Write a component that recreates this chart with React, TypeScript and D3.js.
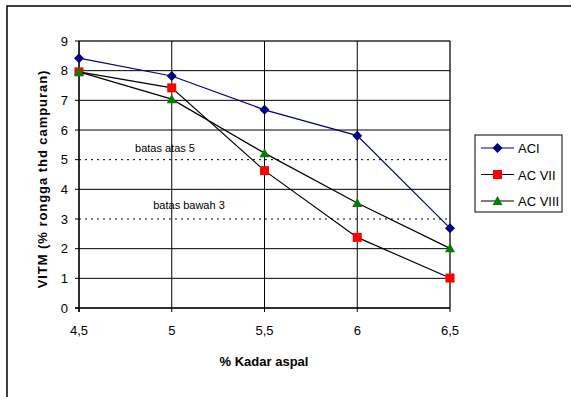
import React from "react";
import * as d3 from "d3";

const categories = [4.5, 5, 5.5, 6, 6.5];
const categoryLabels = ["4,5", "5", "5,5", "6", "6,5"];
const aciValues = [8.42, 7.82, 6.68, 5.81, 2.69];
const ac7Values = [7.96, 7.42, 4.63, 2.38, 1.01];
const ac8Values = [7.96, 7.04, 5.22, 3.54, 2.01];
const yTicks = [0, 1, 2, 3, 4, 5, 6, 7, 8, 9];
const limitLines = [
  { value: 5, label: "batas atas 5" },
  { value: 3, label: "batas bawah 3" },
];
const seriesNames = ["ACI", "AC VII", "AC VIII"];

const FONT = "'Liberation Sans', Arial, sans-serif";

export default function App() {
  const x = d3.scaleLinear().domain([4.5, 6.5]).range([79, 450]);
  const y = d3.scaleLinear().domain([0, 9]).range([308, 41]);
  const line = d3
    .line<number>()
    .x((_, i) => x(categories[i]))
    .y((d) => y(d));

  const series = [
    { name: seriesNames[0], values: aciValues, stroke: "#000080", fill: "#000080", shape: "diamond" },
    { name: seriesNames[1], values: ac7Values, stroke: "#000000", fill: "#FF0000", shape: "square" },
    { name: seriesNames[2], values: ac8Values, stroke: "#000000", fill: "#008000", shape: "triangle" },
  ];

  const marker = (shape: string, cx: number, cy: number, fill: string, key: string) => {
    if (shape === "diamond") {
      const r = 5;
      return <path key={key} d={`M${cx},${cy - r}L${cx + r},${cy}L${cx},${cy + r}L${cx - r},${cy}Z`} fill={fill} />;
    }
    if (shape === "square") {
      const r = 4.5;
      return <rect key={key} x={cx - r} y={cy - r} width={2 * r} height={2 * r} fill={fill} />;
    }
    const r = 5;
    return <path key={key} d={`M${cx},${cy - r}L${cx + r},${cy + r * 0.8}L${cx - r},${cy + r * 0.8}Z`} fill={fill} />;
  };

  const x0 = x(4.5), x1 = x(6.5), y0 = y(0), y1 = y(9);

  return (
    <svg width={571} height={397} style={{ position: "absolute", left: 0, top: 0, background: "#fff" }} fontFamily={FONT}>
      <rect x={0} y={0} width={571} height={397} fill="#fff" />
      <rect x={7} y={6} width={620} height={430} fill="none" stroke="#000" strokeWidth={1.5} />
      {/* plot border */}
      <rect x={x0} y={y1} width={x1 - x0} height={y0 - y1} fill="none" stroke="#808080" strokeWidth={1} />
      {/* horizontal gridlines */}
      {yTicks.filter((t) => t !== 0 && !limitLines.some((l) => l.value === t)).map((t) => (
        <line key={"h" + t} x1={x0} x2={x1} y1={y(t)} y2={y(t)} stroke="#000" strokeWidth={1} />
      ))}
      {/* vertical gridlines */}
      {categories.slice(1).map((c) => (
        <line key={"v" + c} x1={x(c)} x2={x(c)} y1={y1} y2={y0} stroke="#000" strokeWidth={1} />
      ))}
      {/* limit lines */}
      {limitLines.map((l) => (
        <g key={"l" + l.value}>
          <line x1={x0} x2={x1} y1={y(l.value)} y2={y(l.value)} stroke="#000" strokeWidth={1} strokeDasharray="2 4" />
        </g>
      ))}
      <text x={165} y={152} fontSize={11} textAnchor="middle" fill="#000">{limitLines[0].label}</text>
      <text x={189} y={209} fontSize={11} textAnchor="middle" fill="#000">{limitLines[1].label}</text>
      {/* axes */}
      <line x1={x0} x2={x0} y1={y1} y2={y0 + 4} stroke="#000" strokeWidth={1.5} />
      <line x1={x0 - 4} x2={x1} y1={y0} y2={y0} stroke="#000" strokeWidth={1.5} />
      {yTicks.map((t) => (
        <g key={"yt" + t}>
          <line x1={x0 - 4} x2={x0} y1={y(t)} y2={y(t)} stroke="#000" strokeWidth={1} />
          <text x={68} y={y(t) + 4.5} fontSize={13} textAnchor="end" fill="#000">{t}</text>
        </g>
      ))}
      {categories.map((c, i) => (
        <g key={"xt" + c}>
          <line x1={x(c)} x2={x(c)} y1={y0} y2={y0 + 4} stroke="#000" strokeWidth={1} />
          <text x={x(c)} y={335} fontSize={13} textAnchor="middle" fill="#000">{categoryLabels[i]}</text>
        </g>
      ))}
      {/* series */}
      {series.map((s) => (
        <g key={s.name}>
          <path d={line(s.values) || ""} fill="none" stroke={s.stroke} strokeWidth={1.2} />
          {s.values.map((v, i) => marker(s.shape, x(categories[i]), y(v), s.fill, s.name + i))}
        </g>
      ))}
      {/* axis titles */}
      <text x={264} y={366} fontSize={13} fontWeight="bold" textAnchor="middle" fill="#000">% Kadar aspal</text>
      <text transform={`translate(47,179) rotate(-90)`} fontSize={13} fontWeight="bold" letterSpacing={0.95} textAnchor="middle" fill="#000">
        VITM (% rongga thd campuran)
      </text>
      {/* legend */}
      <rect x={475} y={135} width={87} height={77} fill="#fff" stroke="#000" strokeWidth={1} />
      {series.map((s, i) => {
        const ly = 148 + i * 26.5;
        return (
          <g key={"lg" + s.name}>
            <line x1={481} x2={514} y1={ly} y2={ly} stroke={s.stroke} strokeWidth={1.2} />
            {marker(s.shape, 497.5, ly, s.fill, "lm" + i)}
            <text x={518} y={ly + 5} fontSize={13} fill="#000">{s.name}</text>
          </g>
        );
      })}
    </svg>
  );
}
